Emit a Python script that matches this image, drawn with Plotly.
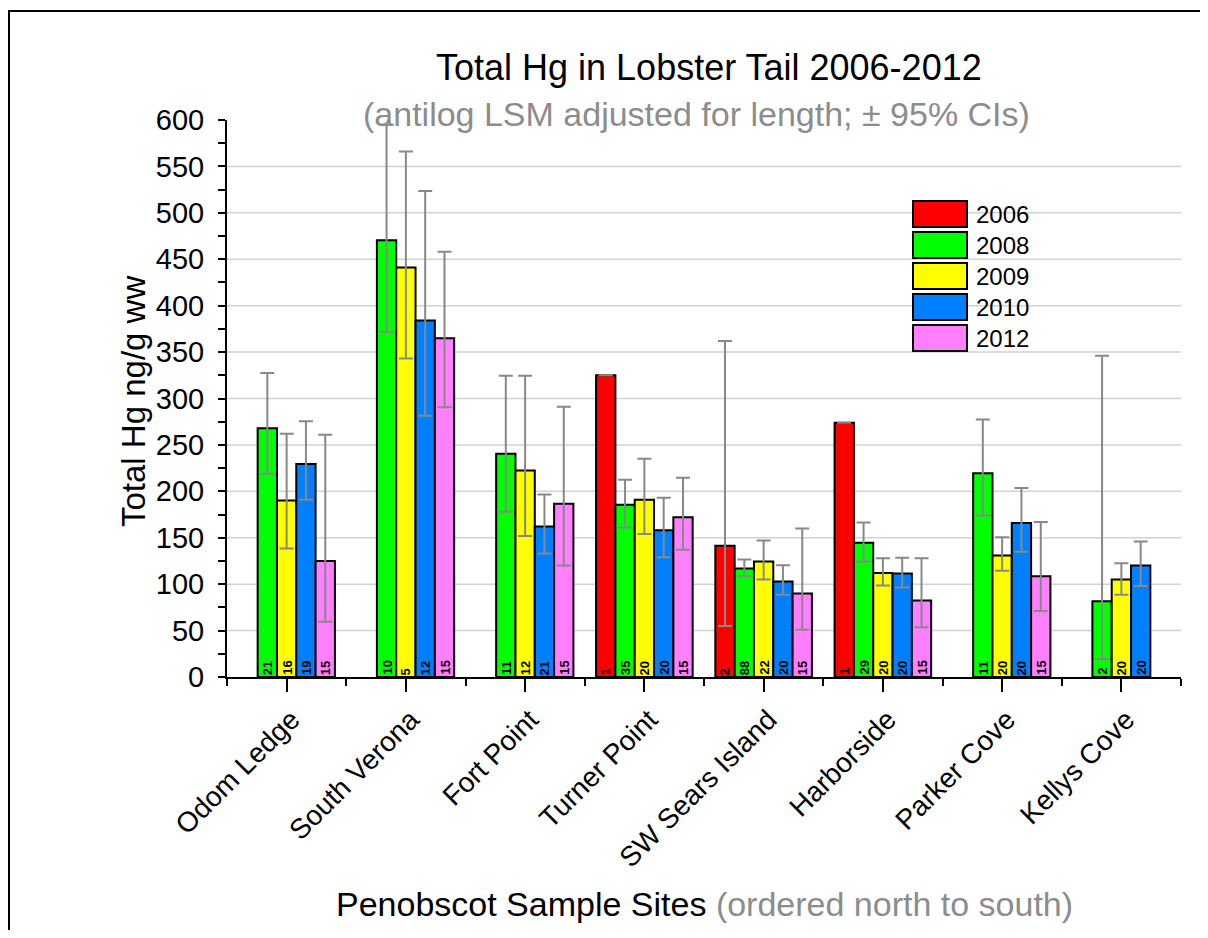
import plotly.graph_objects as go

# ---------------- data ----------------
sites = ["Odom Ledge", "South Verona", "Fort Point", "Turner Point",
         "SW Sears Island", "Harborside", "Parker Cove", "Kellys Cove"]
years = ["2006", "2008", "2009", "2010", "2012"]

hg_2006 = [None, None, None, 325, 141.5, 274, None, None]
hi_2006 = [None, None, None, None, 362, None, None, None]
lo_2006 = [None, None, None, None, 55, None, None, None]
n_2006 = [None, None, None, 1, 2, 1, None, None]

hg_2008 = [268, 470.5, 240.5, 185.5, 117, 144.5, 219.5, 81.5]
hi_2008 = [327.5, 595, 324.5, 212.5, 126.5, 166.5, 277.5, 346]
lo_2008 = [219, 372, 178, 161, 108.5, 124.5, 174, 19.5]
n_2008 = [21, 10, 11, 35, 88, 29, 11, 2]

hg_2009 = [190, 441, 222.5, 191, 124.5, 112, 131, 105]
hi_2009 = [262, 566, 324.5, 235, 147, 128, 150.5, 122.5]
lo_2009 = [138.5, 343, 152, 154, 105, 98.5, 114.5, 88.5]
n_2009 = [16, 5, 12, 20, 22, 20, 20, 20]

hg_2010 = [229.5, 384, 162, 158, 103, 111.5, 166, 120]
hi_2010 = [275.5, 523.5, 196.5, 193, 120.5, 128.5, 203.5, 146]
lo_2010 = [191, 281.5, 133, 129, 88.5, 96.5, 135, 98]
n_2010 = [19, 12, 21, 20, 20, 20, 20, 20]

hg_2012 = [125, 365, 186.5, 172, 90, 82.5, 108.5, None]
hi_2012 = [261, 458, 291, 214.5, 160, 128, 167, None]
lo_2012 = [59.5, 290.5, 120, 137, 51, 53.5, 71, None]
n_2012 = [15, 15, 15, 15, 15, 15, 15, None]

y_ticks = [0, 50, 100, 150, 200, 250, 300, 350, 400, 450, 500, 550, 600]
grid_vals = [50, 100, 150, 200, 250, 300, 350, 400, 450, 500, 550]

series = [
    (years[0], hg_2006, hi_2006, lo_2006, n_2006, "#FF0000"),
    (years[1], hg_2008, hi_2008, lo_2008, n_2008, "#00FF00"),
    (years[2], hg_2009, hi_2009, lo_2009, n_2009, "#FFFF00"),
    (years[3], hg_2010, hi_2010, lo_2010, n_2010, "#0080FF"),
    (years[4], hg_2012, hi_2012, lo_2012, n_2012, "#FF80FF"),
]

FONT = "Arial, Liberation Sans, sans-serif"
xpos = list(range(len(sites)))

GROUP_W = 0.81
BAR_W = GROUP_W / len(series)


def diff(a, b):
    return [None if (p is None or q is None) else p - q for p, q in zip(a, b)]


# figure is placed 8px in from the page corner; work in reference pixels
PAGE = 8
FIG_W, FIG_H = 1208 - 2 * PAGE, 938 - 2 * PAGE
L, R, T, B = 227 - PAGE, 1181 - PAGE, 120 - PAGE, 677 - PAGE
W, H = R - L, B - T


def px(xr):
    return (xr - PAGE - L) / W


def py(yr):
    return (B - (yr - PAGE)) / H


fig = go.Figure()
annotations = []
for j, (name, vals, hi, lo, ns, col) in enumerate(series):
    off = -GROUP_W / 2 + j * BAR_W
    fig.add_trace(go.Bar(
        x=xpos, y=vals, name=name, width=BAR_W, offset=off,
        marker=dict(color=col, line=dict(color="black", width=2)),
        error_y=dict(type="data", symmetric=False,
                     array=diff(hi, vals), arrayminus=diff(vals, lo),
                     color="#888888", thickness=2, width=7),
        showlegend=False,
    ))
    # sample-size labels at the foot of each bar
    for xi, n in zip(xpos, ns):
        if n is None:
            continue
        annotations.append(dict(
            x=xi + off + BAR_W / 2, y=0, xref="x", yref="y",
            text="<b>%d</b>" % n, showarrow=False, textangle=-90,
            xanchor="center", yanchor="bottom", yshift=1, borderpad=0,
            font=dict(family=FONT, size=13, color="black")))

shapes = []
# horizontal gridlines
for v in grid_vals:
    shapes.append(dict(type="line", xref="paper", yref="y", x0=0, x1=1,
                       y0=v, y1=v, line=dict(color="#d2d2d2", width=1.5),
                       layer="below"))

# outer frame
shapes.append(dict(type="rect", xref="paper", yref="paper",
                   x0=px(9), x1=px(1260), y0=py(1000), y1=py(11),
                   line=dict(color="black", width=2), layer="above"))

# legend
leg_tops = [201, 232, 263, 294, 325]
for (name, _, _, _, _, col), top in zip(series, leg_tops):
    shapes.append(dict(type="rect", xref="paper", yref="paper",
                       x0=px(913), x1=px(967), y0=py(top + 26), y1=py(top),
                       fillcolor=col, line=dict(color="black", width=2),
                       layer="above"))
    annotations.append(dict(xref="paper", yref="paper", x=px(974), y=py(top + 13),
                            text=name, showarrow=False, xanchor="left",
                            yanchor="middle",
                            font=dict(family=FONT, size=24, color="black")))

# titles
annotations.append(dict(xref="paper", yref="paper", x=px(709), y=py(68),
                        text="Total Hg in Lobster Tail 2006-2012", showarrow=False,
                        xanchor="center", yanchor="middle",
                        font=dict(family=FONT, size=36, color="black")))
annotations.append(dict(xref="paper", yref="paper", x=px(696), y=py(114),
                        text="(antilog LSM adjusted for length; \u00b1 95% CIs)",
                        showarrow=False, xanchor="center", yanchor="middle",
                        font=dict(family=FONT, size=34, color="#8c8c8c")))
annotations.append(dict(xref="paper", yref="paper", x=px(133), y=py(402),
                        text="Total Hg ng/g ww", showarrow=False, textangle=-90,
                        xanchor="center", yanchor="middle",
                        font=dict(family=FONT, size=33, color="black")))
annotations.append(dict(xref="paper", yref="paper", x=px(704), y=py(904),
                        text="Penobscot Sample Sites <span style='color:#8c8c8c'>(ordered north to south)</span>",
                        showarrow=False, xanchor="center", yanchor="middle",
                        font=dict(family=FONT, size=34, color="black")))

fig.update_layout(
    width=FIG_W, height=FIG_H,
    margin=dict(l=L, r=FIG_W - R, t=T, b=FIG_H - B),
    paper_bgcolor="white", plot_bgcolor="white",
    barmode="overlay",
    font=dict(family=FONT, color="black"),
    shapes=shapes, annotations=annotations,
    xaxis=dict(range=[-0.5, len(sites) - 0.5], tickmode="array",
               tickvals=xpos, ticktext=sites, tickangle=-45,
               tickfont=dict(family=FONT, size=28, color="black"),
               ticks="outside", ticklen=13, tickwidth=2, tickcolor="black",
               ticklabelshift=5,
               minor=dict(tick0=0.5, dtick=1, ticks="outside", ticklen=7,
                          tickwidth=2, tickcolor="black"),
               showline=True, linecolor="black", linewidth=2,
               showgrid=False, zeroline=False),
    yaxis=dict(range=[0, 600], tickmode="array", tickvals=y_ticks,
               tickfont=dict(family=FONT, size=29, color="black"),
               ticks="outside", ticklen=7, tickwidth=2, tickcolor="black",
               ticklabelstandoff=8,
               minor=dict(dtick=25, ticks="outside", ticklen=7, tickwidth=2,
                          tickcolor="black"),
               showline=True, linecolor="black", linewidth=2,
               showgrid=False, zeroline=False),
)

fig.write_html("out.html")
